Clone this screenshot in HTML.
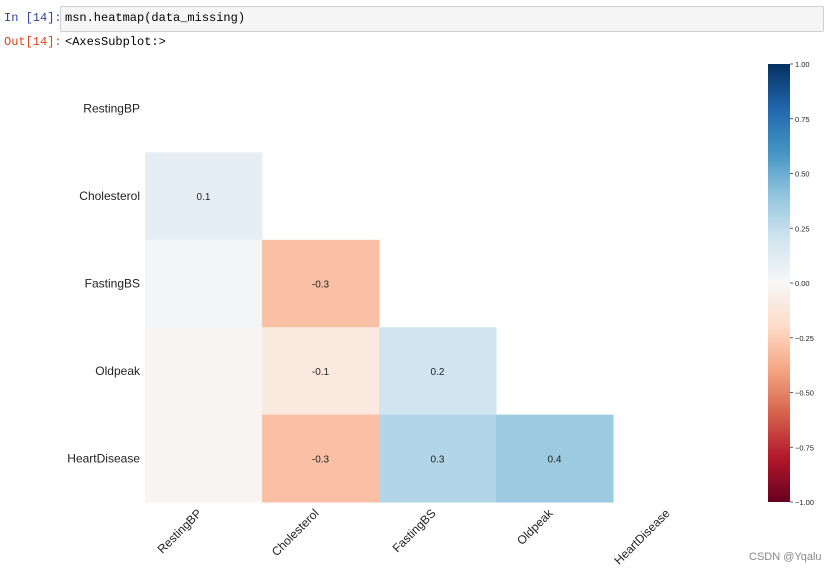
<!DOCTYPE html>
<html><head><meta charset="utf-8"><style>
body{margin:0;width:832px;height:572px;background:#fff;font-family:"Liberation Sans",sans-serif;overflow:hidden;position:relative}
.mono{font-family:"Liberation Mono",monospace;font-size:12px;position:absolute}
</style></head><body>
<div class="mono" style="left:4px;top:11px;color:#303f9f">In [14]:</div>
<div style="position:absolute;left:60px;top:6px;width:762px;height:24px;background:#f5f5f5;border:1px solid #cfcfcf;border-radius:2px"></div>
<div class="mono" style="left:65px;top:11px;color:#000">msn.heatmap(data_missing)</div>
<div class="mono" style="left:4px;top:35px;color:#d84315">Out[14]:</div>
<div class="mono" style="left:65px;top:35px;color:#000">&lt;AxesSubplot:&gt;</div>
<svg id="chart" width="832" height="572" style="position:absolute;left:0;top:0">
<defs><linearGradient id="cbg" x1="0" y1="1" x2="0" y2="0"></linearGradient></defs>
</svg>
<div style="position:absolute;left:749px;top:551px;font-size:11px;color:#888">CSDN @Yqalu</div>
<script>
const labels=["RestingBP","Cholesterol","FastingBS","Oldpeak","HeartDisease"];
const row1=[0.1];
const row2=[0.02,-0.3];
const row3=[-0.02,-0.1,0.2];
const row4=[-0.02,-0.3,0.3,0.37];
const cbTicks=[1,0.75,0.5,0.25,0,-0.25,-0.5,-0.75,-1];
const rows=[[],row1,row2,row3,row4];
const stops=["#67001f","#b2182b","#d6604d","#f4a582","#fddbc7","#f7f7f7","#d1e5f0","#92c5de","#4393c3","#2166ac","#053061"];
function hex(h){return [1,3,5].map(i=>parseInt(h.substr(i,2),16));}
function cmap(v){let t=(v+1)/2*10;let i=Math.min(9,Math.floor(t));let f=t-i;let a=hex(stops[i]),b=hex(stops[i+1]);return "rgb("+a.map((c,k)=>Math.round(c+(b[k]-c)*f)).join(",")+")";}
const X0=145,CW=117,Y0=65,RH=87.4;
const xs=i=>X0+i*CW, ys=j=>Y0+j*RH;
const svg=document.getElementById("chart");const NS="http://www.w3.org/2000/svg";
function el(t,a){const e=document.createElementNS(NS,t);for(const k in a)e.setAttribute(k,a[k]);svg.appendChild(e);return e;}
rows.forEach((r,j)=>r.forEach((v,i)=>{
 const c=el("rect",{x:xs(i),y:ys(j),width:CW+0.5,height:RH+0.5,fill:cmap(v)});
 
 
 const lab=Math.round(v*10)/10;
 if(lab!==0){const t=el("text",{x:xs(i)+CW/2,y:ys(j)+RH/2+4,"text-anchor":"middle","font-size":"10",fill:"#222"});t.textContent=String(lab);
 
 }
}));
labels.forEach((l,j)=>{
 const t=el("text",{x:140,y:ys(j)+RH/2+4,"text-anchor":"end","font-size":"12",fill:"#222"});t.textContent=l;
 
 
 const cx=xs(j)+CW/2-1,cy=514;
 const u=el("text",{x:cx,y:cy,"text-anchor":"end","font-size":"12",fill:"#222",transform:`rotate(-45 ${cx} ${cy})`});u.textContent=l;
 
 
});
const g=document.getElementById("cbg");
for(let k=0;k<=20;k++){const s=document.createElementNS(NS,"stop");s.setAttribute("offset",k/20);s.setAttribute("stop-color",cmap(-1+k/10));g.appendChild(s);}
const CB_T=64,CB_B=502,CB_X=768,CB_W=22;
const cy=v=>CB_B-(v+1)/2*(CB_B-CB_T);
const cb=el("rect",{x:CB_X,y:CB_T,width:CB_W,height:CB_B-CB_T,fill:"url(#cbg)"});


cbTicks.forEach(v=>{
 el("line",{x1:CB_X+CB_W,x2:CB_X+CB_W+3,y1:cy(v),y2:cy(v),stroke:"#333","stroke-width":"0.8"});
 const t=el("text",{x:CB_X+CB_W+5,y:cy(v)+3,"font-size":"7.5",fill:"#222"});t.textContent=(v<0?"\u2212":"")+Math.abs(v).toFixed(2);
 
 
});
</script>
</body></html>
